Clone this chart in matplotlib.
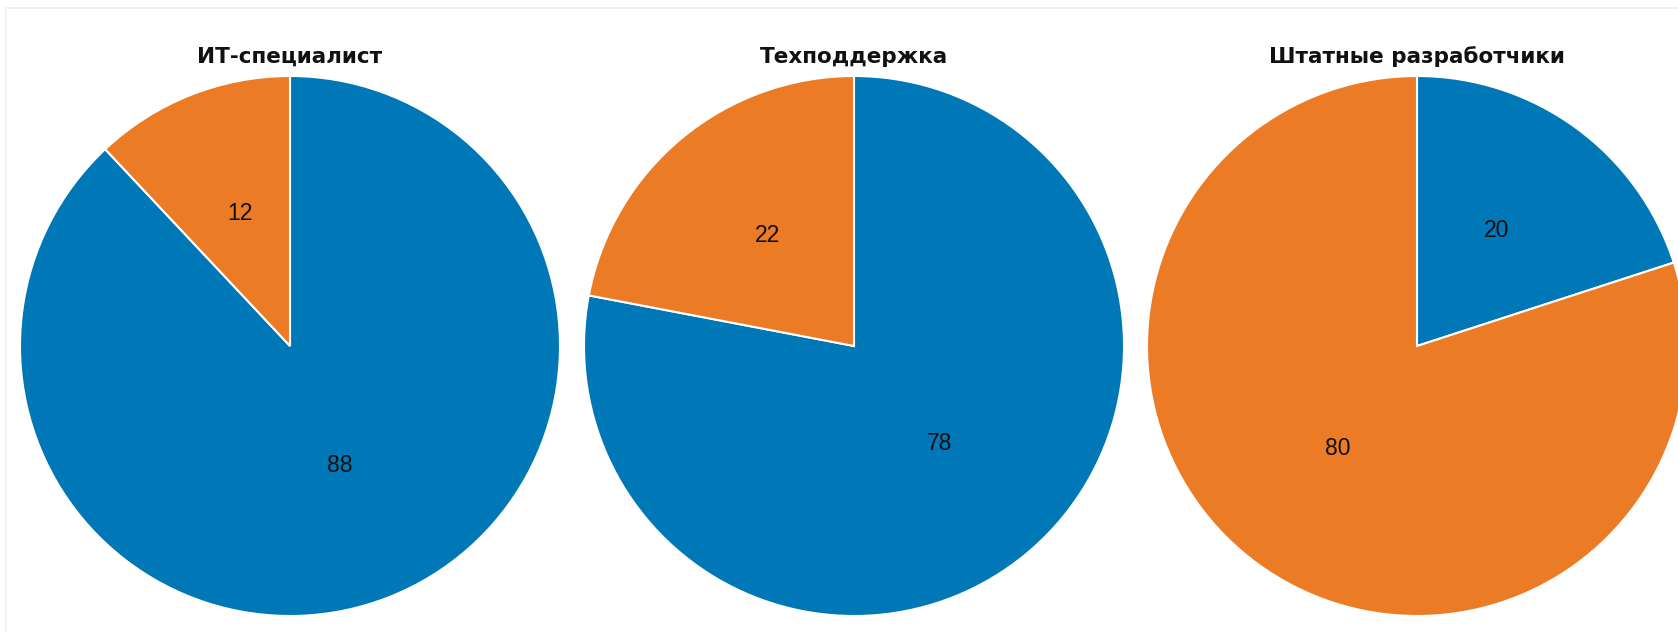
import matplotlib.pyplot as plt
from matplotlib.patches import Rectangle

# названия групп и доли ответов
groups = ["ИТ-специалист", "Техподдержка", "Штатные разработчики"]
blue_vals = [88, 78, 20]
orange_vals = [12, 22, 80]

blue = "#0077b6"
orange = "#ec7b25"

W, H = 1678, 632
fig = plt.figure(figsize=(W / 100, H / 100), dpi=100)
fig.patch.set_facecolor("white")

# тонкая рамка вокруг области графика
fig.patches.append(Rectangle((6 / W, -0.1), 2, 1 - 8 / H + 0.1,
                             transform=fig.transFigure, fill=False,
                             edgecolor="#eef0f0", linewidth=1.2))

r = 270
centers_x = [290, 854, 1417]
cy = 346

for i, name in enumerate(groups):
    cx = centers_x[i]
    ax = fig.add_axes([(cx - r) / W, (H - cy - r) / H, 2 * r / W, 2 * r / H])
    vals = [blue_vals[i], orange_vals[i]]
    ax.pie(vals, colors=[blue, orange], startangle=90, counterclock=False,
           labels=[str(v) for v in vals], labeldistance=0.5,
           wedgeprops=dict(edgecolor="white", linewidth=1.5),
           textprops=dict(fontsize=16.5, color="#111111",
                          family="Liberation Sans", ha="center", va="baseline"))
    ax.set_xlim(-1, 1)
    ax.set_ylim(-1, 1)
    ax.set_aspect("equal")
    ax.axis("off")
    ax.text(0, 1 + 19 / r, name, ha="center", va="center", fontsize=15.5,
            fontweight="bold", family="DejaVu Sans", color="#111111")

fig.savefig("out.png", dpi=100)
